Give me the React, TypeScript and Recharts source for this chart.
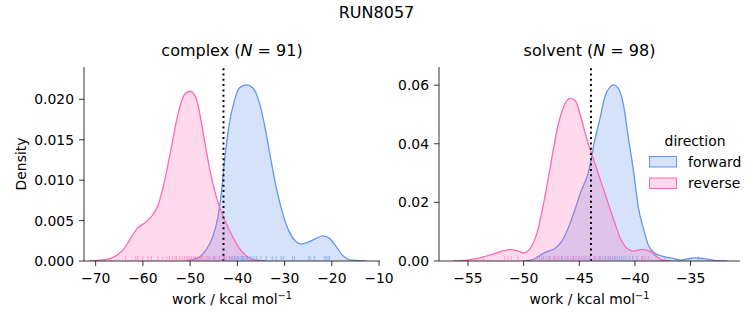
import React from 'react'
import { ComposedChart, Area, Scatter, XAxis, YAxis, ReferenceLine } from 'recharts'

const FWD = '#6495ed'
const REV = '#ff69b4'
const FONT = '"DejaVu Sans", sans-serif'

// complex leg, KDE curves
const complexFwdWork = [-50.8, -49.4, -48.0, -46.6, -45.2, -44.1, -43.4, -42.7, -41.7, -40.6, -39.6, -38.1, -36.7, -35.3, -33.9, -32.9, -31.8, -30.4, -29.0, -27.6, -26.5, -25.1, -23.3, -21.9, -20.5, -19.1, -17.7, -15.6, -12.8]
const complexFwdDensity = [0, 0.0002, 0.0005, 0.0014, 0.0030, 0.0055, 0.0084, 0.0125, 0.0170, 0.0199, 0.0214, 0.0218, 0.0214, 0.0195, 0.0158, 0.0125, 0.0092, 0.0059, 0.0036, 0.0024, 0.0021, 0.0023, 0.0028, 0.0031, 0.0028, 0.0018, 0.0007, 0.0001, 0]
const complexRevWork = [-71.3, -69.2, -67.0, -65.3, -63.9, -62.5, -61.1, -59.6, -58.2, -56.8, -55.4, -54.0, -52.6, -51.2, -50.0, -48.7, -47.7, -46.6, -45.2, -43.8, -42.4, -41.0, -39.6, -37.8, -36.0, -33.9]
const complexRevDensity = [0, 0.0001, 0.0003, 0.0008, 0.0016, 0.0029, 0.0041, 0.0047, 0.0055, 0.0069, 0.0099, 0.0140, 0.0181, 0.0206, 0.0210, 0.0201, 0.0174, 0.0137, 0.0096, 0.0067, 0.0047, 0.0030, 0.0016, 0.0005, 0.0001, 0]
const complexFwdRug = [-46.0, -44.9, -43.8, -42.9, -42.4, -41.7, -41.3, -41.0, -40.6, -40.3, -39.9, -39.7, -39.2, -38.9, -38.7, -38.3, -38.0, -37.8, -37.3, -36.9, -36.4, -35.9, -35.0, -33.9, -32.6, -31.8, -30.7, -30.3, -28.3, -27.9, -24.9, -24.6, -23.7, -21.6, -21.2, -20.8, -20.5]
const complexRevRug = [-63.7, -61.5, -61.1, -60.0, -58.9, -58.2, -56.8, -55.8, -54.9, -54.4, -53.7, -53.2, -52.9, -52.2, -51.7, -51.2, -50.7, -50.4, -50.1, -49.7, -49.3, -48.9, -48.4, -47.9, -47.6, -47.3, -46.7, -46.3, -45.8, -45.2, -44.8, -44.5, -43.8, -43.3, -42.7, -41.7, -40.6]
const complexEstimate = -42.94

// solvent leg
const solventFwdWork = [-50.0, -49.1, -48.5, -47.9, -47.2, -46.6, -46.0, -45.4, -44.8, -44.2, -43.6, -43.1, -42.7, -42.2, -41.9, -41.5, -41.0, -40.6, -40.1, -39.7, -39.2, -38.8, -38.2, -37.4, -36.7, -35.9, -35.3, -34.6, -33.8, -32.9, -31.7]
const solventFwdDensity = [0, 0.0006, 0.0020, 0.0032, 0.0043, 0.0066, 0.0112, 0.0174, 0.0242, 0.0299, 0.0413, 0.0493, 0.0561, 0.0595, 0.0601, 0.0590, 0.0527, 0.0424, 0.0299, 0.0185, 0.0106, 0.0055, 0.0026, 0.0015, 0.0010, 0.0003, 0.0007, 0.0011, 0.0008, 0.0002, 0]
const solventRevWork = [-56.3, -55.1, -53.9, -52.7, -51.8, -51.2, -50.6, -50.0, -49.4, -48.8, -48.2, -47.6, -47.0, -46.4, -45.8, -45.4, -44.9, -44.3, -43.7, -43.1, -42.5, -41.9, -41.3, -40.7, -40.1, -39.4, -38.6, -38.0, -37.4, -36.8]
const solventRevDensity = [0, 0.0003, 0.0011, 0.0024, 0.0035, 0.0040, 0.0035, 0.0028, 0.0043, 0.0095, 0.0197, 0.0322, 0.0447, 0.0527, 0.0555, 0.0550, 0.0498, 0.0413, 0.0345, 0.0276, 0.0208, 0.0140, 0.0077, 0.0043, 0.0034, 0.0040, 0.0032, 0.0013, 0.0002, 0]
const solventFwdRug = [-48.6, -48.2, -47.7, -47.2, -46.6, -46.1, -45.5, -45.0, -44.5, -44.1, -43.6, -43.2, -42.9, -42.6, -42.4, -42.2, -42.0, -41.8, -41.6, -41.4, -41.2, -41.0, -40.8, -40.5, -40.2, -39.8, -39.3, -37.3, -34.3]
const solventRevRug = [-53.6, -51.7, -51.4, -51.1, -50.5, -48.8, -48.4, -47.9, -47.6, -47.3, -47.0, -46.8, -46.5, -46.3, -46.0, -45.8, -45.6, -45.3, -45.1, -44.8, -44.6, -44.3, -44.0, -43.7, -43.4, -43.1, -42.7, -42.3, -41.8, -39.4, -39.1, -38.8]
const solventEstimate = -43.95

const complexXTicks = [-70, -60, -50, -40, -30, -20, -10]
const complexYTicks = [0, 0.005, 0.01, 0.015, 0.02]
const solventXTicks = [-55, -50, -45, -40, -35]
const solventYTicks = [0, 0.02, 0.04, 0.06]

const curve = (xs: number[], ys: number[]) => xs.map((x, i) => ({ x, y: ys[i] }))
const rug = (xs: number[]) => xs.map((x) => ({ x, y: 0 }))
const minus = (v: number) => String(v).replace('-', '\u2212')

const rugShape = (color: string) => (p: any) => (
  <line x1={p.cx} x2={p.cx} y1={p.cy} y2={p.cy - 5} stroke={color} strokeWidth={1} strokeOpacity={0.55} />
)

const tick = { fill: '#000', fontSize: 13.9, fontFamily: FONT }
const spine = { stroke: '#000', strokeWidth: 0.8 }

function Facet(props: {
  left: number; width: number; yAxisWidth: number; right: number
  xDomain: number[]; xTicks: number[]; yDomain: number[]; yTicks: number[]; yDigits: number
  fwd: { x: number; y: number }[]; rev: { x: number; y: number }[]
  fwdRug: { x: number; y: number }[]; revRug: { x: number; y: number }[]; estimate: number
}) {
  return (
    <div style={{ position: 'absolute', left: props.left, top: 0 }}>
      <ComposedChart width={props.width} height={325} margin={{ top: 67, right: props.right, bottom: 0, left: 0 }}>
        <XAxis
          type="number" dataKey="x" domain={props.xDomain} ticks={props.xTicks} allowDataOverflow interval={0}
          tickFormatter={minus} tick={tick} tickSize={5} tickMargin={7} height={64}
          axisLine={spine} tickLine={spine}
        />
        <YAxis
          type="number" dataKey="y" domain={props.yDomain} ticks={props.yTicks} allowDataOverflow interval={0}
          tickFormatter={(v: number) => v.toFixed(props.yDigits)} tick={tick} tickSize={5} tickMargin={5}
          width={props.yAxisWidth} axisLine={spine} tickLine={spine}
        />
        <Area data={props.fwd} dataKey="y" type="monotone" stroke={FWD} fill={FWD} fillOpacity={0.27}
          strokeWidth={1.3} dot={false} activeDot={false} isAnimationActive={false} />
        <Area data={props.rev} dataKey="y" type="monotone" stroke={REV} fill={REV} fillOpacity={0.25}
          strokeWidth={1.3} dot={false} activeDot={false} isAnimationActive={false} />
        <Scatter data={props.fwdRug} shape={rugShape(FWD)} isAnimationActive={false} />
        <Scatter data={props.revRug} shape={rugShape(REV)} isAnimationActive={false} />
        <ReferenceLine x={props.estimate} stroke="#000" strokeWidth={2} strokeDasharray="2 3.3" />
      </ComposedChart>
    </div>
  )
}

export default function App() {
  return (
    <div style={{ position: 'absolute', left: 0, top: 0, width: 753, height: 325, background: '#fff', fontFamily: FONT }}>
      <Facet
        left={0} width={400} yAxisWidth={84} right={20}
        xDomain={[-72.47, -9.8]} xTicks={complexXTicks} yDomain={[0, 0.024]} yTicks={complexYTicks} yDigits={3}
        fwd={curve(complexFwdWork, complexFwdDensity)} rev={curve(complexRevWork, complexRevDensity)}
        fwdRug={rug(complexFwdRug)} revRug={rug(complexRevRug)} estimate={complexEstimate}
      />
      <Facet
        left={380} width={373} yAxisWidth={59} right={13}
        xDomain={[-57.6, -30.56]} xTicks={solventXTicks} yDomain={[0, 0.0662]} yTicks={solventYTicks} yDigits={2}
        fwd={curve(solventFwdWork, solventFwdDensity)} rev={curve(solventRevWork, solventRevDensity)}
        fwdRug={rug(solventFwdRug)} revRug={rug(solventRevRug)} estimate={solventEstimate}
      />
      <svg width={753} height={325} style={{ position: 'absolute', left: 0, top: 0, pointerEvents: 'none' }} fontFamily={FONT}>
        <text x={376.5} y={18.3} fontSize={16} textAnchor="middle">RUN8057</text>
        <text x={232} y={56} fontSize={16} textAnchor="middle">
          complex (<tspan fontStyle="italic">N</tspan> = 91)
        </text>
        <text x={589.5} y={56} fontSize={16} textAnchor="middle">
          solvent (<tspan fontStyle="italic">N</tspan> = 98)
        </text>
        <text transform="translate(25.5,164) rotate(-90)" fontSize={13.9} textAnchor="middle">Density</text>
        <text x={232} y={304} fontSize={13.9} textAnchor="middle">
          work / kcal mol<tspan fontSize={9.7} dy={-5.5}>{'\u22121'}</tspan>
        </text>
        <text x={589.5} y={304} fontSize={13.9} textAnchor="middle">
          work / kcal mol<tspan fontSize={9.7} dy={-5.5}>{'\u22121'}</tspan>
        </text>
        <text x={695} y={146} fontSize={13.9} textAnchor="middle">direction</text>
        <rect x={649.5} y={156.5} width={27} height={10.5} fill={FWD} fillOpacity={0.27} stroke={FWD} strokeWidth={1} />
        <text x={688} y={166.5} fontSize={13.9}>forward</text>
        <rect x={649.5} y={178} width={27} height={10.5} fill={REV} fillOpacity={0.25} stroke={REV} strokeWidth={1} />
        <text x={688} y={188} fontSize={13.9}>reverse</text>
      </svg>
    </div>
  )
}
